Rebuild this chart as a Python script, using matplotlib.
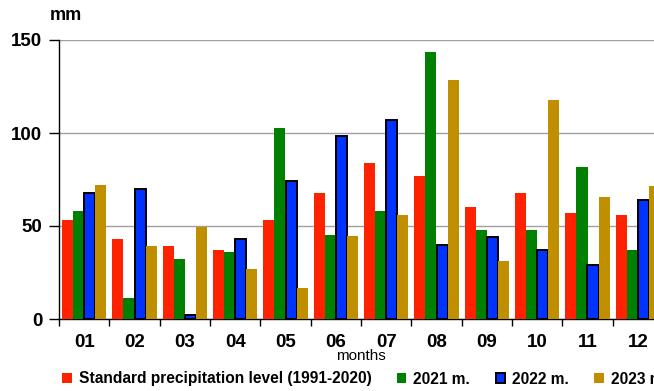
import numpy as np
import matplotlib
matplotlib.use("Agg")
import matplotlib.pyplot as plt

plt.rcParams['font.family'] = ['Liberation Sans', 'DejaVu Sans']

months = ['01', '02', '03', '04', '05', '06', '07', '08', '09', '10', '11', '12']
standard = [53, 43, 39, 37, 53, 68, 84, 77, 60, 68, 57, 56]
y2021 = [58, 11.5, 32.5, 36, 102.5, 45, 58, 143.5, 48, 48, 81.5, 37]
y2022 = [67.5, 70, 2.3, 43, 74, 98.5, 107, 40, 44, 37, 29, 64]
y2023 = [72, 39, 49.5, 27, 16.5, 44.5, 56, 128.5, 31, 118, 65.5, 71.5]

series = [
    ('Standard precipitation level (1991-2020)', standard, '#FF2200', 'none'),
    ('2021 m.', y2021, '#008000', 'none'),
    ('2022 m.', y2022, '#0033FF', 'black'),
    ('2023 m.', y2023, '#BF8F00', 'none'),
]

fig = plt.figure(figsize=(6.54, 3.91), dpi=100)
ax = fig.add_axes([59 / 654, 72 / 391, 604 / 654, 279 / 391])

x = np.arange(len(months))
w = 0.22
for k, (label, vals, color, edge) in enumerate(series):
    ax.bar(x + (k - 1.5) * w, vals, w, color=color,
           edgecolor=edge, linewidth=1.4 if edge != 'none' else 0,
           label=label, zorder=3)

ax.set_xlim(-0.5, len(months) - 0.5)
ax.set_ylim(0, 150)
ax.set_yticks([0, 50, 100, 150])
ax.set_yticklabels(['0', '50', '100', '150'], fontsize=13.5, fontweight='bold')
ax.yaxis.grid(True, color='#a0a0a0', linewidth=1)
ax.set_axisbelow(True)

ax.set_xticks(np.arange(-0.5, len(months) - 0.4, 1))
ax.set_xticklabels([])
ax.set_xticks(x, minor=True)
ax.set_xticklabels(months, minor=True, fontsize=13.5, fontweight='bold')
ax.tick_params(axis='x', which='minor', length=0, pad=11)
ax.tick_params(axis='x', which='major', length=5, width=1)
ax.tick_params(axis='y', length=7, width=1, pad=5)

for s in ('top', 'right'):
    ax.spines[s].set_visible(False)
for s in ('left', 'bottom'):
    ax.spines[s].set_linewidth(1)
    ax.spines[s].set_color('black')

ax.set_xlabel('months', fontsize=11, labelpad=-2)
fig.text(50 / 654, 1 - 15 / 391, 'mm', fontsize=13, fontweight='bold', va='center')

fig.legend(loc='center left', bbox_to_anchor=(56 / 654, 1 - 379 / 391), ncol=4,
           frameon=False, handlelength=0.6, handleheight=0.6, handletextpad=0.45,
           columnspacing=1.65, prop={'size': 11.2, 'weight': 'bold'}, borderaxespad=0)

fig.savefig('out.png', dpi=100)
